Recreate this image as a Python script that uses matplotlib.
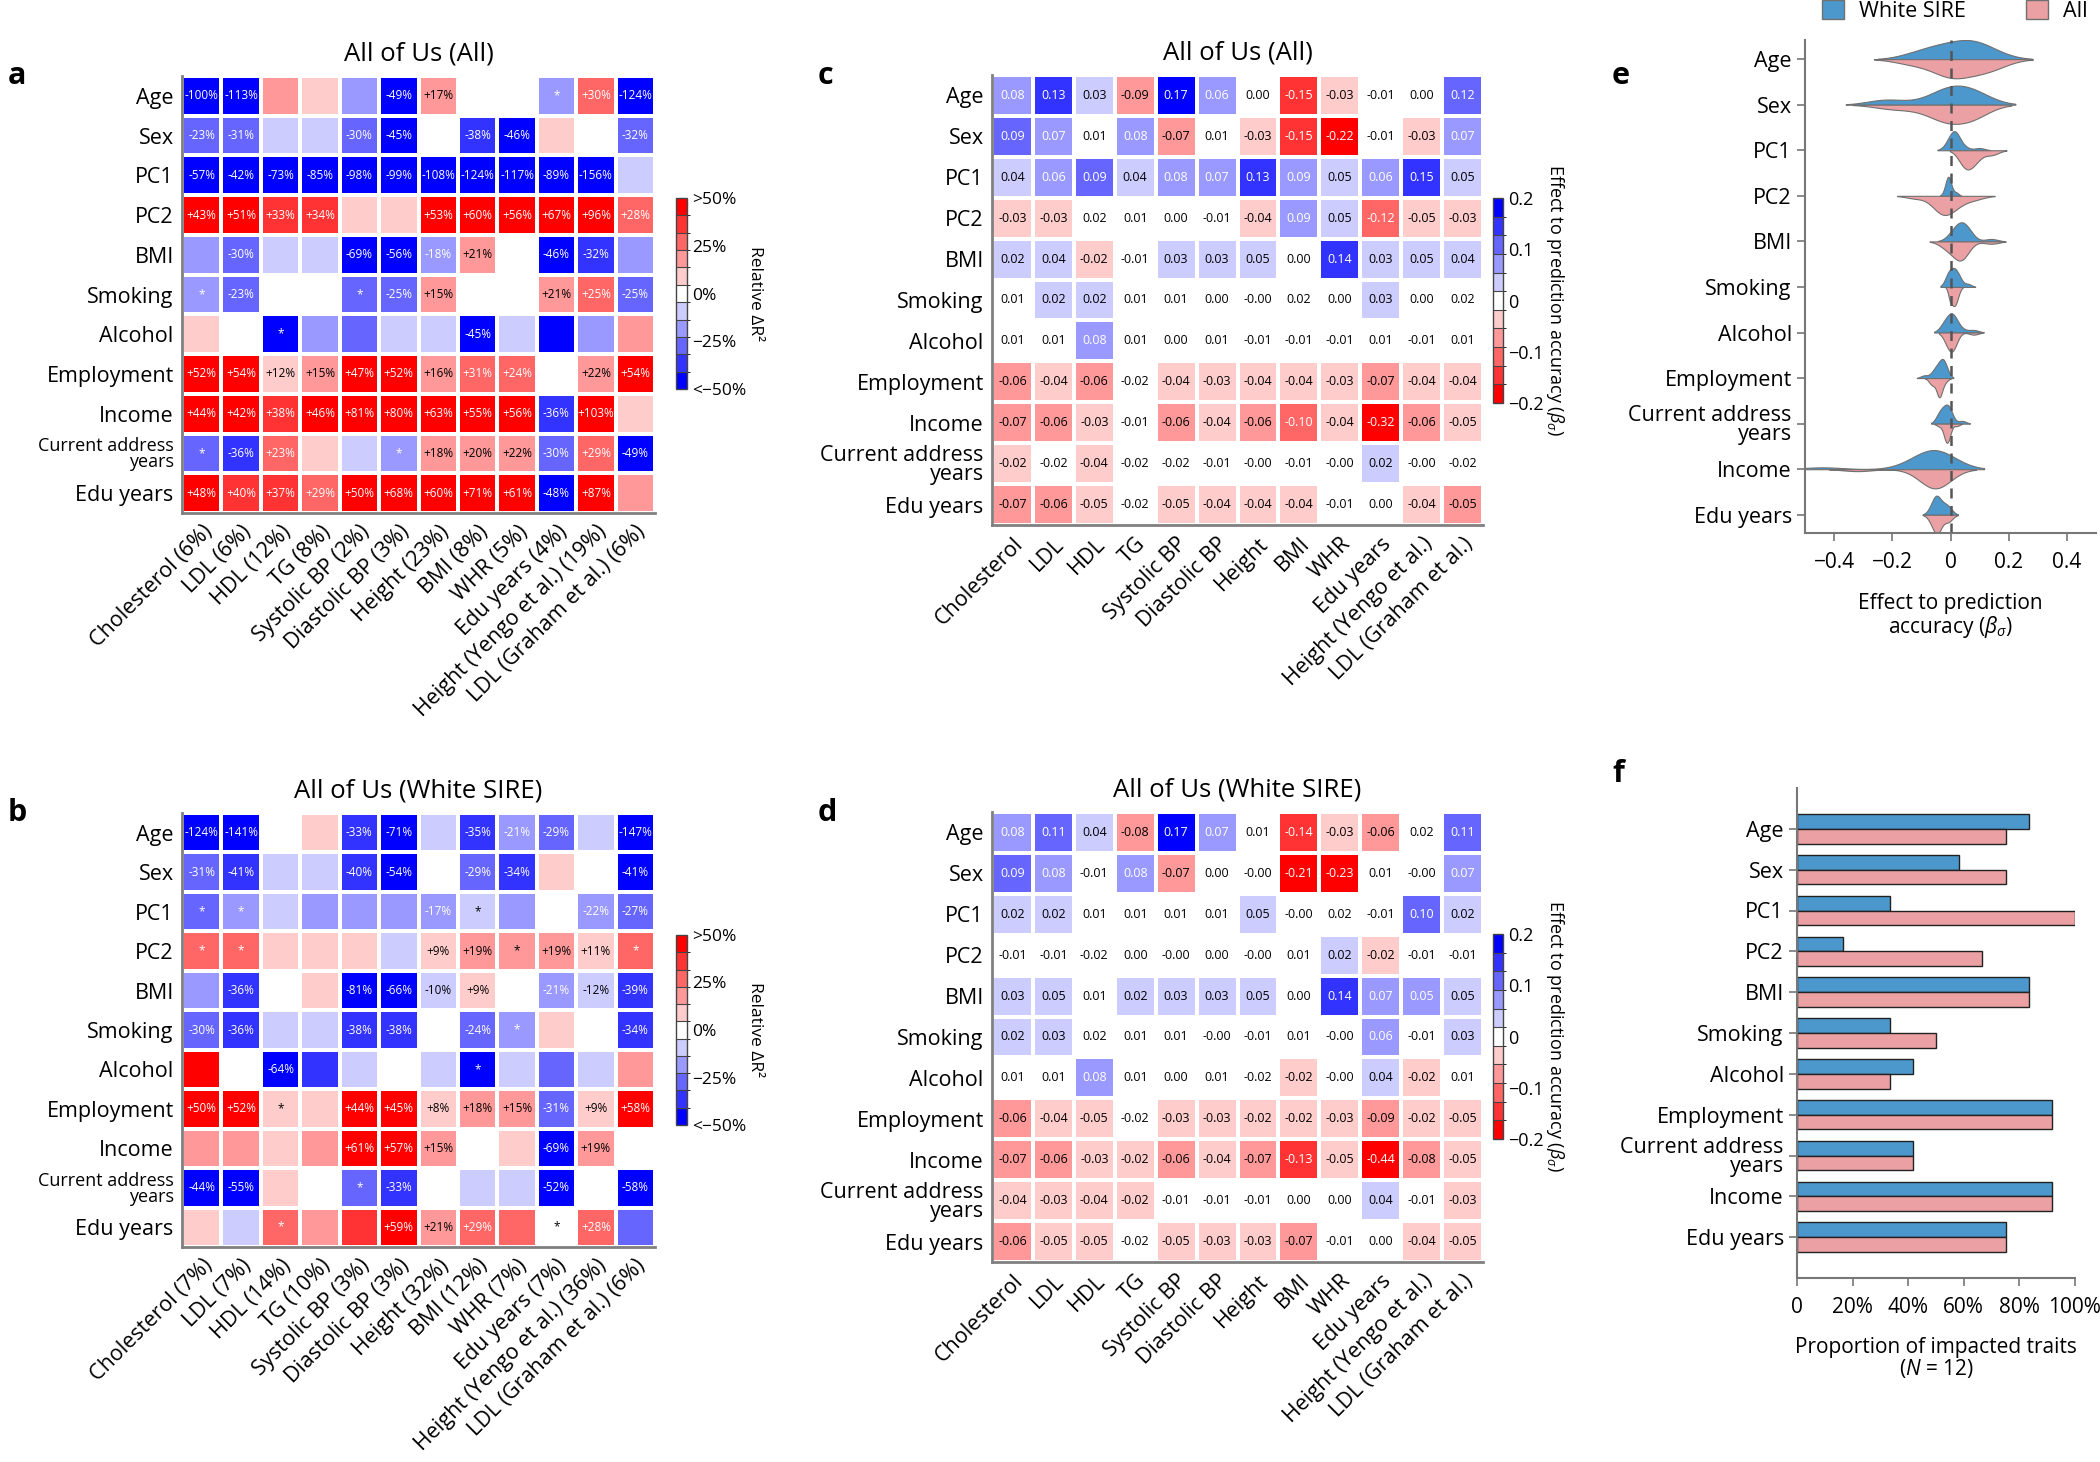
import numpy as np
import matplotlib
matplotlib.use("Agg")
import matplotlib.pyplot as plt
from matplotlib.colors import ListedColormap, BoundaryNorm
from matplotlib.cm import ScalarMappable
from matplotlib.patches import Patch

plt.rcParams["font.family"] = ["Open Sans", "DejaVu Sans"]
plt.rcParams["mathtext.fontset"] = "custom"
plt.rcParams["mathtext.rm"] = "Open Sans"
plt.rcParams["mathtext.it"] = "Open Sans:italic"

# ---------------- data ----------------
covariates = ["Age", "Sex", "PC1", "PC2", "BMI", "Smoking", "Alcohol", "Employment",
              "Income", "Current address\nyears", "Edu years"]
traits = ["Cholesterol", "LDL", "HDL", "TG", "Systolic BP", "Diastolic BP", "Height",
          "BMI", "WHR", "Edu years", "Height (Yengo et al.)", "LDL (Graham et al.)"]
r2_all = [6, 6, 12, 8, 2, 3, 23, 8, 5, 4, 19, 6]
r2_white = [7, 7, 14, 10, 3, 3, 32, 12, 7, 7, 36, 6]

# relative delta R2 (%), All of Us (All)
rel_all = np.array([
    [-100, -113, 18, 9, -18, -49, 17, 0, 0, -18, 30, -124],
    [-23, -31, -9, -9, -30, -45, 0, -38, -46, 9, 0, -31.6],
    [-57, -42, -73, -85, -98, -99, -108, -124, -117, -89, -156, -9],
    [43, 51, 33, 34, 9, 9, 53, 60, 56, 67, 96, 28],
    [-18, -30, -9, -9, -69, -56, -18, 21, 0, -46, -32, -18],
    [-18, -23, 0, 0, -27, -25, 15, 0, 0, 21, 25, -25],
    [9, 0, -45, -18, -27, -9, -9, -45, -9, -45, -18, 18],
    [52, 54, 12, 15, 47, 52, 16, 31, 24, 0, 22, 54],
    [44, 42, 38, 46, 81, 80, 63, 55, 56, -36, 103, 9],
    [-27, -36, 23, 9, -9, -18, 18, 20, 22, -30, 29, -49],
    [48, 40, 37, 29, 50, 68, 60, 71, 61, -48, 87, 18],
])
# 1 = value shown, 2 = star, 0 = blank
marks_all = np.array([
    [1, 1, 0, 0, 0, 1, 1, 0, 0, 2, 1, 1],
    [1, 1, 0, 0, 1, 1, 0, 1, 1, 0, 0, 1],
    [1, 1, 1, 1, 1, 1, 1, 1, 1, 1, 1, 0],
    [1, 1, 1, 1, 0, 0, 1, 1, 1, 1, 1, 1],
    [0, 1, 0, 0, 1, 1, 1, 1, 0, 1, 1, 0],
    [2, 1, 0, 0, 2, 1, 1, 0, 0, 1, 1, 1],
    [0, 0, 2, 0, 0, 0, 0, 1, 0, 0, 0, 0],
    [1, 1, 1, 1, 1, 1, 1, 1, 1, 0, 1, 1],
    [1, 1, 1, 1, 1, 1, 1, 1, 1, 1, 1, 0],
    [2, 1, 1, 0, 0, 2, 1, 1, 1, 1, 1, 1],
    [1, 1, 1, 1, 1, 1, 1, 1, 1, 1, 1, 0],
])

# relative delta R2 (%), All of Us (White SIRE)
rel_white = np.array([
    [-124, -141, 0, 9, -33, -71, -9, -35, -21, -29, -9, -147],
    [-31, -40.6, -9, -9, -40, -54, 0, -29, -34, 9, 0, -41],
    [-27, -18, -9, -18, -18, -18, -17, -9, -18, 0, -22, -27],
    [27, 27, 9, 9, 9, -9, 9, 19, 18, 19, 11, 27],
    [-18, -36, 0, 9, -81, -66, -10, 9, 0, -21, -12, -39],
    [-30, -36, -9, -9, -38, -38, 0, -24, -18, 9, 0, -34],
    [45, 0, -64, -36, -9, 0, -9, -45, -9, -27, -9, 18],
    [50, 52, 9, 9, 44, 45, 8, 18, 15, -31, 9, 58],
    [18, 18, 9, 18, 61, 57, 15, 0, 9, -69, 19, 0],
    [-44, -55, 9, 0, -27, -33, 0, -9, -9, -52, 0, -58],
    [9, -9, 27, 18, 36, 59, 21, 29, 27, 0, 28, -27],
])
marks_white = np.array([
    [1, 1, 0, 0, 1, 1, 0, 1, 1, 1, 0, 1],
    [1, 1, 0, 0, 1, 1, 0, 1, 1, 0, 0, 1],
    [2, 2, 0, 0, 0, 0, 1, 2, 0, 0, 1, 1],
    [2, 2, 0, 0, 0, 0, 1, 1, 2, 1, 1, 2],
    [0, 1, 0, 0, 1, 1, 1, 1, 0, 1, 1, 1],
    [1, 1, 0, 0, 1, 1, 0, 1, 2, 0, 0, 1],
    [0, 0, 1, 0, 0, 0, 0, 2, 0, 0, 0, 0],
    [1, 1, 2, 0, 1, 1, 1, 1, 1, 1, 1, 1],
    [0, 0, 0, 0, 1, 1, 1, 0, 0, 1, 1, 0],
    [1, 1, 0, 0, 2, 1, 0, 0, 0, 1, 0, 1],
    [0, 0, 2, 0, 0, 1, 1, 1, 0, 2, 1, 0],
])

# effect to prediction accuracy (beta_sigma), All
beta_all = np.array([
    [0.08, 0.13, 0.03, -0.09, 0.17, 0.06, 0.00, -0.15, -0.03, -0.01, 0.00, 0.12],
    [0.093, 0.07, 0.01, 0.08, -0.07, 0.01, -0.03, -0.15, -0.22, -0.01, -0.03, 0.07],
    [0.04, 0.06, 0.093, 0.04, 0.08, 0.07, 0.13, 0.088, 0.05, 0.06, 0.15, 0.05],
    [-0.03, -0.03, 0.016, 0.01, 0.00, -0.01, -0.04, 0.088, 0.05, -0.12, -0.05, -0.03],
    [0.022, 0.04, -0.022, -0.01, 0.03, 0.03, 0.05, 0.00, 0.14, 0.03, 0.05, 0.04],
    [0.01, 0.022, 0.022, 0.01, 0.01, 0.00, -0.004, 0.016, 0.00, 0.03, 0.00, 0.016],
    [0.01, 0.01, 0.08, 0.01, 0.00, 0.01, -0.01, -0.01, -0.01, 0.01, -0.01, 0.01],
    [-0.06, -0.04, -0.06, -0.016, -0.04, -0.03, -0.04, -0.04, -0.03, -0.07, -0.04, -0.04],
    [-0.07, -0.06, -0.03, -0.01, -0.06, -0.04, -0.06, -0.10, -0.04, -0.32, -0.06, -0.05],
    [-0.022, -0.016, -0.04, -0.016, -0.016, -0.01, -0.004, -0.01, -0.004, 0.022, -0.004, -0.016],
    [-0.07, -0.06, -0.05, -0.016, -0.05, -0.04, -0.04, -0.04, -0.01, 0.00, -0.04, -0.0549],
])

# effect to prediction accuracy (beta_sigma), White SIRE
beta_white = np.array([
    [0.08, 0.11, 0.04, -0.08, 0.17, 0.07, 0.01, -0.14, -0.03, -0.06, 0.016, 0.11],
    [0.093, 0.08, -0.01, 0.08, -0.07, 0.00, -0.004, -0.21, -0.23, 0.01, -0.004, 0.07],
    [0.022, 0.022, 0.01, 0.01, 0.01, 0.01, 0.05, -0.004, 0.016, -0.01, 0.10, 0.022],
    [-0.01, -0.01, -0.016, 0.00, -0.004, 0.00, -0.004, 0.01, 0.022, -0.022, -0.01, -0.01],
    [0.03, 0.05, 0.01, 0.022, 0.03, 0.03, 0.05, 0.00, 0.14, 0.07, 0.0546, 0.05],
    [0.022, 0.03, 0.016, 0.01, 0.01, -0.004, -0.01, 0.01, -0.004, 0.06, -0.01, 0.03],
    [0.01, 0.01, 0.08, 0.01, 0.00, 0.01, -0.016, -0.022, -0.004, 0.04, -0.022, 0.01],
    [-0.06, -0.04, -0.05, -0.016, -0.03, -0.03, -0.022, -0.022, -0.03, -0.09, -0.022, -0.05],
    [-0.07, -0.06, -0.03, -0.022, -0.06, -0.04, -0.07, -0.13, -0.05, -0.44, -0.08, -0.05],
    [-0.04, -0.03, -0.04, -0.022, -0.01, -0.01, -0.01, 0.00, 0.00, 0.04, -0.01, -0.03],
    [-0.06, -0.05, -0.05, -0.016, -0.05, -0.03, -0.03, -0.07, -0.01, 0.00, -0.04, -0.05],
])

# number of impacted traits (out of 12)
summary_covariates = ["Age", "Sex", "PC1", "PC2", "BMI", "Smoking", "Alcohol", "Employment",
                      "Current address\nyears", "Income", "Edu years"]
impacted_white = [10, 7, 4, 2, 10, 4, 5, 11, 5, 11, 9]
impacted_all = [9, 9, 12, 8, 10, 6, 4, 11, 5, 11, 9]
n_traits = 12

# ---------------- styles ----------------
W, H = 2100, 1462
reds = ["#FF0000", "#FF3333", "#FF6666", "#FF9999", "#FFCCCC"]
blues = ["#0000FF", "#3333FF", "#6666FF", "#9999FF", "#CCCCFF"]
pct_colors = blues + ["#FFFFFF"] + reds[::-1]
beta_colors = reds + ["#FFFFFF"] + blues[::-1]
dark_colors = {"#0000FF", "#3333FF", "#6666FF", "#9999FF", "#FF0000", "#FF3333", "#FF6666"}
blue_c = "#4C97CC"
pink_c = "#EBA0A3"
spine_c = "#777777"
label_size = 15.5


def px_rect(x0, y0, x1, y1):
    return [x0 / W, 1 - y1 / H, (x1 - x0) / W, (y1 - y0) / H]


def pct_labels(values, marks):
    out = []
    for rv, rm in zip(values, marks):
        row = []
        for v, m in zip(rv, rm):
            row.append(f"{v:+.0f}%" if m == 1 else ("*" if m == 2 else ""))
        out.append(row)
    return out


def draw_heatmap(ax, values, labels, colors, vmin, vmax, title, xlabels, text_size,
                 long_label_size):
    bounds = np.linspace(vmin, vmax, len(colors) + 1)
    cmap = ListedColormap(colors)
    norm = BoundaryNorm(bounds, cmap.N)
    shown = np.clip(values, vmin + 1e-9, vmax - 1e-9)
    ax.pcolormesh(shown, cmap=cmap, norm=norm, edgecolors="white", linewidth=1.6)
    nrow, ncol = values.shape
    for i in range(nrow):
        for j in range(ncol):
            if not labels[i][j]:
                continue
            k = int(np.clip(np.searchsorted(bounds, shown[i, j], side="right") - 1, 0, len(colors) - 1))
            tc = "white" if colors[k] in dark_colors else "black"
            ax.text(j + 0.5, i + 0.5, labels[i][j], ha="center", va="center",
                    fontsize=text_size, color=tc)
    ax.set_xlim(0, ncol)
    ax.set_ylim(nrow, 0)
    ax.set_xticks(np.arange(ncol) + 0.5)
    ax.set_xticklabels(xlabels, rotation=45, ha="right", rotation_mode="anchor", fontsize=15.5)
    ax.set_yticks(np.arange(nrow) + 0.5)
    ax.set_yticklabels(covariates, fontsize=label_size, linespacing=0.85)
    for t in ax.get_yticklabels():
        if "\n" in t.get_text():
            t.set_fontsize(long_label_size)
    ax.tick_params(length=0, pad=6)
    for s in ["top", "right"]:
        ax.spines[s].set_visible(False)
    for s in ["left", "bottom"]:
        ax.spines[s].set_color("#808080")
        ax.spines[s].set_linewidth(2)
    ax.set_title(title, fontsize=18.5, pad=11)


def draw_colorbar(fig, rect, colors, vmin, vmax, ticks, ticklabels, label, size, labelpad):
    cax = fig.add_axes(rect)
    bounds = np.linspace(vmin, vmax, len(colors) + 1)
    sm = ScalarMappable(norm=BoundaryNorm(bounds, len(colors)), cmap=ListedColormap(colors))
    cb = fig.colorbar(sm, cax=cax, drawedges=True)
    cb.set_ticks(ticks, labels=ticklabels)
    cb.ax.tick_params(length=0, labelsize=size, pad=4)
    cb.outline.set_edgecolor("#444444")
    cb.outline.set_linewidth(1)
    cb.dividers.set_color("#444444")
    cb.dividers.set_linewidth(0.8)
    cb.set_label(label, rotation=270, fontsize=size, labelpad=labelpad)


def kde_half(vals):
    vals = np.asarray(vals, dtype=float)
    bw = vals.std(ddof=1) * len(vals) ** (-1 / 5)
    grid = np.linspace(vals.min() - 2 * bw, vals.max() + 2 * bw, 300)
    dens = np.exp(-0.5 * ((grid[:, None] - vals[None, :]) / bw) ** 2).sum(axis=1)
    return grid, dens / dens.max()


fig = plt.figure(figsize=(W / 100, H / 100), dpi=100)

# panels a and b
ax_a = fig.add_axes(px_rect(182, 76, 655, 513))
draw_heatmap(ax_a, rel_all, pct_labels(rel_all, marks_all), pct_colors, -50, 50,
             "All of Us (All)", [f"{t} ({p}%)" for t, p in zip(traits, r2_all)], 8.5, 13)
ax_b = fig.add_axes(px_rect(182, 813, 655, 1247))
draw_heatmap(ax_b, rel_white, pct_labels(rel_white, marks_white), pct_colors, -50, 50,
             "All of Us (White SIRE)", [f"{t} ({p}%)" for t, p in zip(traits, r2_white)], 8.5, 13)
for y0, y1 in [(198, 389), (935, 1125)]:
    draw_colorbar(fig, px_rect(676, y0, 687, y1), pct_colors, -50, 50,
                  [50, 25, 0, -25, -50], [">50%", "25%", "0%", "\u221225%", "<\u221250%"],
                  "Relative \u0394R\u00b2", 12.5, 12)

# panels c and d
beta_fmt = lambda m: [[f"{v:.2f}" for v in row] for row in m]
ax_c = fig.add_axes(px_rect(992, 75, 1483, 525))
draw_heatmap(ax_c, beta_all, beta_fmt(beta_all), beta_colors, -0.2, 0.2,
             "All of Us (All)", traits, 9, label_size)
ax_d = fig.add_axes(px_rect(992, 812, 1483, 1262))
draw_heatmap(ax_d, beta_white, beta_fmt(beta_white), beta_colors, -0.2, 0.2,
             "All of Us (White SIRE)", traits, 9, label_size)
for y0, y1 in [(198, 403), (934, 1139)]:
    draw_colorbar(fig, px_rect(1493, y0, 1503, y1), beta_colors, -0.2, 0.2,
                  [0.2, 0.1, 0, -0.1, -0.2], ["0.2", "0.1", "0", "\u22120.1", "\u22120.2"],
                  r"Effect to prediction accuracy ($\beta_\sigma$)", 13, 16)

# panel e: split violins of beta per covariate
ax_e = fig.add_axes(px_rect(1805, 40, 2096, 533))
half = 0.42
for r, name in enumerate(summary_covariates):
    k = covariates.index(name)
    g, d = kde_half(beta_white[k])
    ax_e.fill_between(g, r - half * d, r, facecolor=blue_c, edgecolor="#707070", linewidth=0.8)
    g, d = kde_half(beta_all[k])
    ax_e.fill_between(g, r, r + half * d, facecolor=pink_c, edgecolor="#707070", linewidth=0.8)
ax_e.axvline(0, color="#555555", linestyle=(0, (4, 3)), linewidth=1.8)
ax_e.set_xlim(-0.5, 0.5)
ax_e.set_ylim(10.4, -0.42)
ax_e.set_yticks(np.arange(len(summary_covariates)))
ax_e.set_yticklabels(summary_covariates, fontsize=label_size, linespacing=0.85)
ax_e.set_xticks([-0.4, -0.2, 0, 0.2, 0.4])
ax_e.set_xticklabels(["\u22120.4", "\u22120.2", "0", "0.2", "0.4"], fontsize=15)
ax_e.set_xlabel("Effect to prediction\naccuracy ($\\beta_\\sigma$)", fontsize=15,
                labelpad=14, linespacing=1.0)

# panel f: proportion of impacted traits
ax_f = fig.add_axes(px_rect(1797, 788, 2075, 1278))
y = np.arange(len(summary_covariates))
ax_f.barh(y - 0.18, np.array(impacted_white) / n_traits, height=0.36, color=blue_c,
          edgecolor="#222222", linewidth=1)
ax_f.barh(y + 0.18, np.array(impacted_all) / n_traits, height=0.36, color=pink_c,
          edgecolor="#222222", linewidth=1)
ax_f.set_xlim(0, 1)
ax_f.set_ylim(11, -1)
ax_f.set_yticks(y)
ax_f.set_yticklabels(summary_covariates, fontsize=label_size, linespacing=0.85)
ax_f.set_xticks([0, 0.2, 0.4, 0.6, 0.8, 1.0])
ax_f.set_xticklabels(["0", "20%", "40%", "60%", "80%", "100%"], fontsize=15)
ax_f.set_xlabel("Proportion of impacted traits\n($N$ = 12)", fontsize=15, labelpad=13,
                linespacing=1.0)

for ax in (ax_e, ax_f):
    for s in ["top", "right"]:
        ax.spines[s].set_visible(False)
    for s in ["left", "bottom"]:
        ax.spines[s].set_color(spine_c)
        ax.spines[s].set_linewidth(1.5)
    ax.tick_params(color=spine_c, length=6, width=1.2)
    ax.tick_params(axis="x", pad=8)

fig.legend(handles=[Patch(facecolor=blue_c, edgecolor="#707070"),
                    Patch(facecolor=pink_c, edgecolor="#707070")],
           labels=["White SIRE", "All"], loc="upper right", bbox_to_anchor=(2096 / W, 1.006),
           borderaxespad=0, ncol=2, frameon=False, fontsize=15.5, handlelength=1.0,
           handleheight=1.0, columnspacing=2.8, handletextpad=0.7)

for letter, (x, yy) in {"a": (8, 76), "b": (8, 813), "c": (818, 76), "d": (818, 813),
                        "e": (1612, 76), "f": (1612, 774)}.items():
    fig.text(x / W, 1 - yy / H, letter, fontsize=22, fontweight="bold", ha="left", va="center")

fig.savefig("out.png", dpi=100)
